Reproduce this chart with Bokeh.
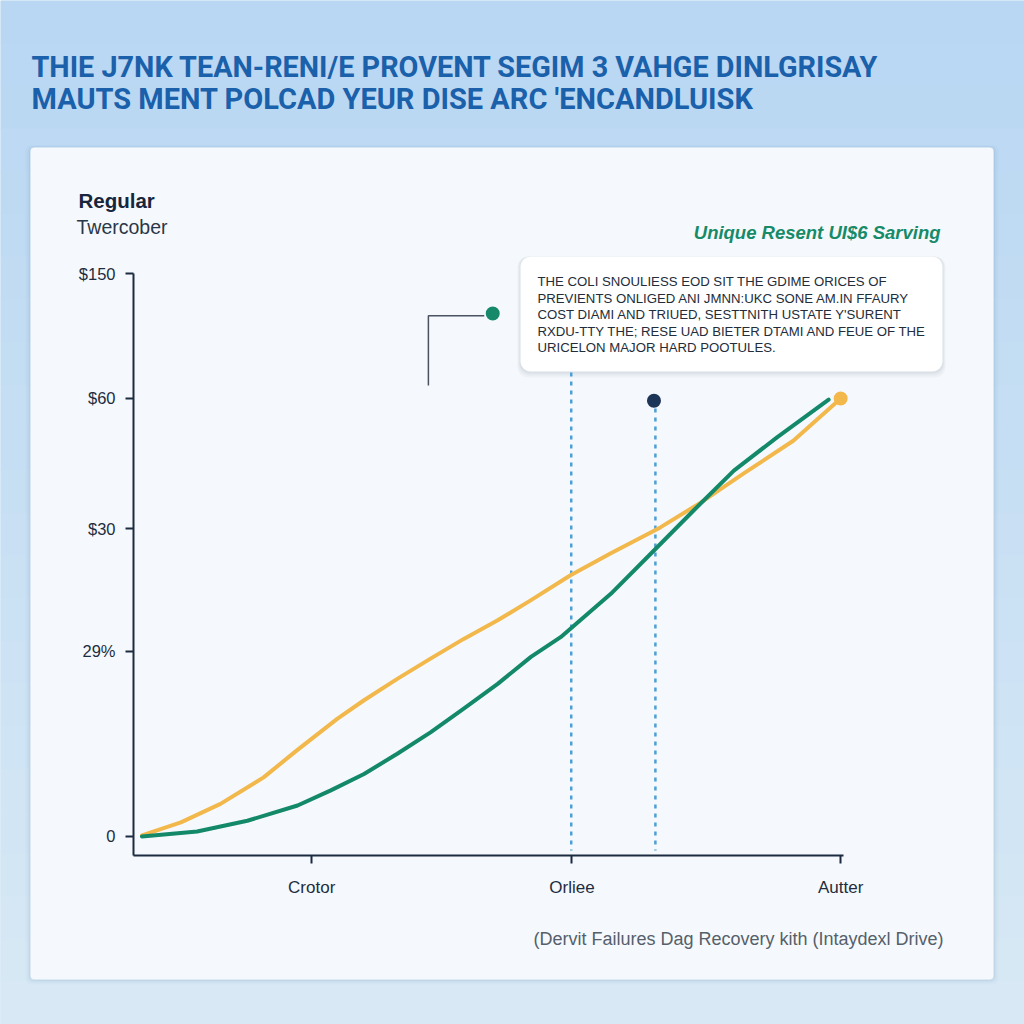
from bokeh.plotting import figure
from bokeh.models import Range1d, FixedTicker, BoxAnnotation, Label
from bokeh.embed import file_html
from bokeh.resources import INLINE

# ---------------- data ----------------
x_ticks = [25.2, 62.0, 100.0]
x_labels = ["Crotor", "Orliee", "Autter"]
y_ticks = [0, 32.9, 54.7, 77.8, 100]
y_labels = ["0", "29%", "$30", "$60", "$150"]

yellow_x = [1.2, 6.7, 12.3, 18.4, 23.1, 28.8, 32.6, 37.3, 42.0, 46.7, 51.5, 56.1, 61.8,
            67.5, 74.5, 80.2, 86.3, 93.3, 100.0]
yellow_y = [0.2, 2.5, 5.8, 10.5, 15.3, 20.9, 24.2, 28.0, 31.6, 35.1, 38.4, 41.9, 46.4,
            50.3, 54.9, 59.3, 64.5, 70.3, 77.8]
green_x = [1.2, 9.0, 16.1, 23.2, 27.9, 32.6, 37.3, 42.0, 46.7, 51.5, 56.2, 60.4, 67.5,
           73.6, 79.2, 84.9, 91.0, 98.3]
green_y = [0.0, 0.9, 2.8, 5.5, 8.2, 11.1, 14.7, 18.5, 22.7, 27.1, 31.9, 35.4, 43.1,
           50.8, 57.9, 65.0, 70.9, 77.6]

dot_x = [50.8, 73.6, 100.0]
dot_y = [92.9, 77.4, 77.8]
dot_colors = ["#15896a", "#1d3557", "#f2b84b"]

guide_x = [61.9, 73.8]
guide_top = [82.4, 76.0]
guide_bottom = [-2.5, -2.5]

callout_x = [41.7, 41.7, 49.6]
callout_y = [80.1, 92.5, 92.5]

title_lines = ["THIE J7NK TEAN-RENI/E PROVENT SEGIM 3 VAHGE DINLGRISAY",
               "MAUTS MENT POLCAD YEUR DISE ARC 'ENCANDLUISK"]
note_lines = ["THE COLI SNOULIESS EOD SIT THE GDIME ORICES OF",
              "PREVIENTS ONLIGED ANI JMNN:UKC SONE AM.IN FFAURY",
              "COST DIAMI AND TRIUED, SESTTNITH USTATE Y'SURENT",
              "RXDU-TTY THE; RESE UAD BIETER DTAMI AND FEUE OF THE",
              "URICELON MAJOR HARD POOTULES."]

# ---------------- geometry (page pixels -> data) ----------------
W = H = 1024
AX_L, AX_R, AX_T, AX_B = 133, 843, 273, 855   # axis extents in page px
X0, X1 = 0.0, 100.4
Y0, Y1 = -3.375, 100.0


def dx(px):
    return X0 + (px - AX_L) / (AX_R - AX_L) * (X1 - X0)


def dy(py):
    return Y0 + (AX_B - py) / (AX_B - AX_T) * (Y1 - Y0)


p = figure(width=W, height=H, output_backend="svg", toolbar_location=None, title=None,
           x_range=Range1d(dx(0), dx(W)), y_range=Range1d(dy(H), dy(0)),
           min_border=0)
p.outline_line_color = None
p.grid.visible = False
p.background_fill_color = "#bcd9f3"
p.border_fill_color = "#bcd9f3"

# background gradient bands
n = 24
for i in range(n):
    t = i / (n - 1)
    r = int(0xb9 + (0xd8 - 0xb9) * t)
    g = int(0xd7 + (0xe9 - 0xd7) * t)
    b = int(0xf3 + (0xf5 - 0xf3) * t)
    top = i * (H / n)
    p.add_layout(BoxAnnotation(left=dx(0), right=dx(W), top=dy(top), bottom=dy(top + H / n + 1),
                               fill_color="#%02x%02x%02x" % (r, g, b), fill_alpha=1, line_color=None,
                               level="underlay"))

# card (soft shadow + body)
for off, a in [(5, 0.025), (3, 0.035), (1.5, 0.05)]:
    p.add_layout(BoxAnnotation(left=dx(30 - off), right=dx(993 + off), top=dy(147 - off / 2), bottom=dy(979 + off),
                               fill_color="#2a5d8f", fill_alpha=a, line_color=None, border_radius=6,
                               level="underlay"))
p.add_layout(BoxAnnotation(left=dx(30), right=dx(993), top=dy(147), bottom=dy(979),
                           fill_color="#f5f9fd", fill_alpha=1, line_color="#e4edf6", line_width=1,
                           border_radius=4, level="underlay"))

# note box shadow + box
for off, a in [(6, 0.03), (4, 0.04), (2, 0.05)]:
    p.add_layout(BoxAnnotation(left=dx(520 - off / 2), right=dx(942 + off / 2), top=dy(256), bottom=dy(371 + off),
                               fill_color="#1c2b40", fill_alpha=a, line_color=None, border_radius=10,
                               level="underlay"))
p.add_layout(BoxAnnotation(left=dx(520), right=dx(942), top=dy(256), bottom=dy(371),
                           fill_color="#ffffff", fill_alpha=1, line_color="#e8edf2", line_width=1,
                           border_radius=10, level="underlay"))

# ---------------- glyphs ----------------
for gx, gt, gb in zip(guide_x, guide_top, guide_bottom):
    p.segment(x0=gx, y0=gt, x1=gx, y1=gb, line_color="#4e9fd6", line_width=2.5,
              line_dash="4 5")

p.line(callout_x, callout_y, line_color="#4b5360", line_width=1.5)

p.line(yellow_x, yellow_y, line_color="#f2b84b", line_width=4, line_cap="round", line_join="round")
p.line(green_x, green_y, line_color="#13896a", line_width=4, line_cap="round", line_join="round")

p.scatter(dot_x, dot_y, size=14, fill_color=dot_colors, line_color=None)

# ---------------- axes ----------------
for ax in (p.xaxis[0], p.yaxis[0]):
    ax.axis_line_color = "#1c2b40"
    ax.axis_line_width = 2
    ax.major_tick_line_color = "#1c2b40"
    ax.major_tick_line_width = 2
    ax.major_tick_out = 8
    ax.major_tick_in = 0
    ax.minor_tick_line_color = None
    ax.major_label_text_font = "Liberation Sans"
    ax.major_label_text_color = "#1f2d3d"

p.xaxis[0].fixed_location = Y0
p.xaxis[0].bounds = (X0, X1)
p.xaxis[0].ticker = FixedTicker(ticks=x_ticks)
p.xaxis[0].major_label_overrides = {t: l for t, l in zip(x_ticks, x_labels)}
p.xaxis[0].major_label_standoff = 14
p.xaxis[0].major_label_text_font_size = "17px"

p.yaxis[0].fixed_location = X0
p.yaxis[0].bounds = (Y0, Y1)
p.yaxis[0].ticker = FixedTicker(ticks=y_ticks)
p.yaxis[0].major_label_overrides = {t: l for t, l in zip(y_ticks, y_labels)}
p.yaxis[0].major_label_standoff = 10
p.yaxis[0].major_label_text_font_size = "16.5px"


# ---------------- texts ----------------
def lab(px, py, text, size, color, style="normal", align="left", font="Liberation Sans"):
    p.add_layout(Label(x=dx(px), y=dy(py), text=text, text_font=font, text_font_size=size,
                       text_color=color, text_font_style=style, text_align=align,
                       text_baseline="middle"))


lab(31, 66, title_lines[0], "28.8px", "#1a60aa", "bold", font="Roboto")
lab(31, 98, title_lines[1], "29px", "#1a60aa", "bold", font="Roboto")

lab(78, 200, "Regular", "20.5px", "#17263c", "bold")
lab(76, 226, "Twercober", "19.5px", "#2a3748")
lab(940, 232, "Unique Resent UI$6 Sarving", "18.5px", "#178a68", "bold italic", align="right")

for i, t in enumerate(note_lines):
    lab(537, 281 + i * 16.5, t, "13.2px", "#232d3a")

lab(943, 938, "(Dervit Failures Dag Recovery kith (Intaydexl Drive)", "18px", "#55606b", align="right")

open("out.html", "w").write(file_html(p, INLINE))
